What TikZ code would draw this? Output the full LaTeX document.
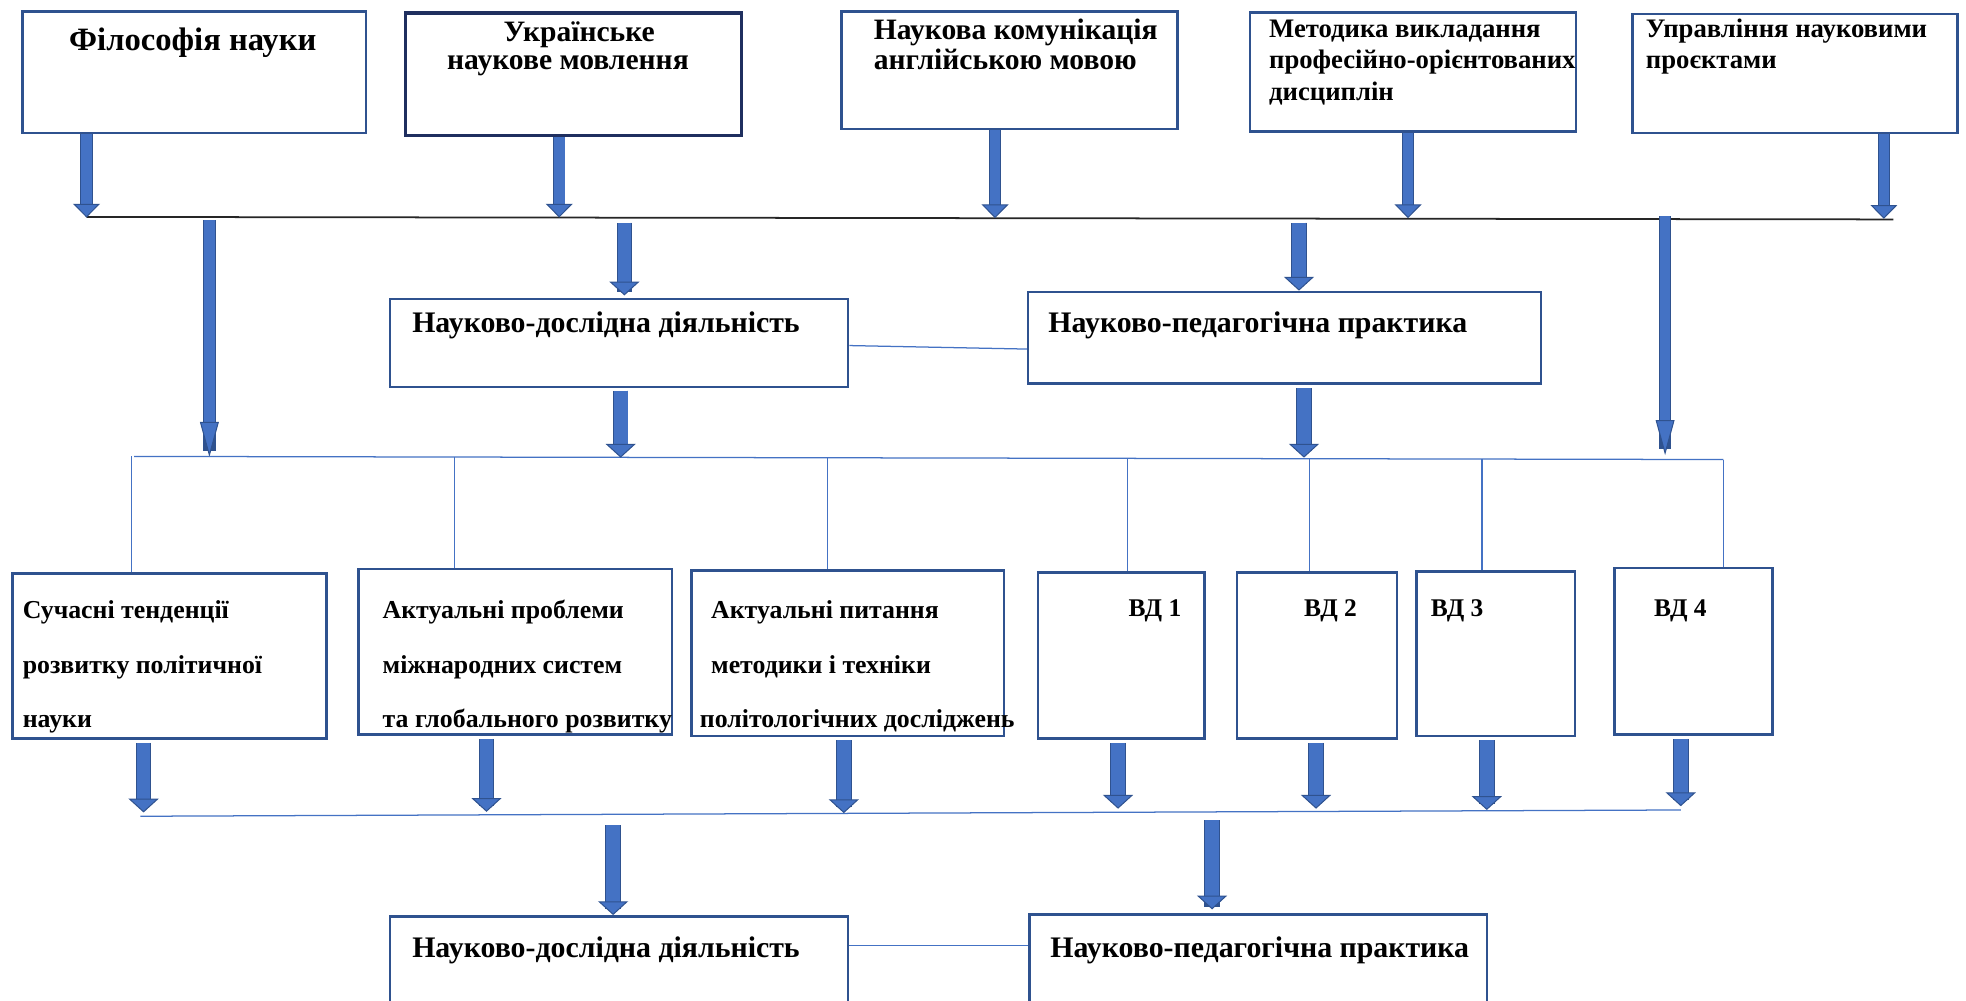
\documentclass[tikz,border=0pt]{standalone}
\usepackage{fontspec}
\setmainfont{Liberation Serif}
\usetikzlibrary{arrows.meta}
\definecolor{boxblue}{HTML}{2F528F}
\definecolor{navyblue}{HTML}{1F2F5F}
\definecolor{arrfill}{HTML}{4472C4}
\definecolor{arrline}{HTML}{2F528F}
\definecolor{thinblue}{HTML}{4472C4}
\begin{document}
\begin{tikzpicture}[x=1pt,y=-1pt,
  box/.style={draw=boxblue, line width=2pt, rectangle, inner sep=0pt, anchor=north west, fill=white},
  txt/.style={inner sep=0pt, anchor=base west, font=\fontsize{21.3}{25}\selectfont\bfseries},
  bigtxt/.style={txt, font=\fontsize{26}{30}\selectfont\bfseries},
  toptxt/.style={txt, font=\fontsize{23.6}{27}\selectfont\bfseries},
  midtxt/.style={txt, font=\fontsize{23.8}{28}\selectfont\bfseries},
  rowtxt/.style={txt, font=\fontsize{20.6}{24}\selectfont\bfseries},
  vdtxt/.style={txt, font=\fontsize{20.3}{24}\selectfont\bfseries},
  blk/.style n args={4}{line width=#1pt, draw=arrfill,
     -{Triangle[width=#3pt,length=#4pt,fill=arrfill,color=arrline,line width=0.8pt]},
     preaction={draw=arrline, line width=#2pt, -, shorten >=5pt}},
  arrA/.style={blk={8.6}{10}{21.5}{11}},
  arrB/.style={blk={11}{12.4}{24}{11}},
  arrL/.style={blk={8.6}{10}{15}{28}},
  topline/.style={draw=black!85, line width=1.4pt},
  thinline/.style={draw=thinblue, line width=1pt}
]
\useasboundingbox (0,0) rectangle (1568,798);
\fill[white] (0,0) rectangle (1568,798);

% ---------- top row boxes
\node[box, minimum width=274pt, minimum height=97pt] (t1) at (17,8) {};
\node[box, draw=navyblue, line width=2.6pt, minimum width=268pt, minimum height=98pt] (t2) at (322,9) {};
\node[box, minimum width=268pt, minimum height=94pt] (t3) at (670,8) {};
\node[box, minimum width=260pt, minimum height=95pt] (t4) at (996,9) {};
\node[box, minimum width=259pt, minimum height=95pt] (t5) at (1301,10) {};

\node[bigtxt] (t1a) at (55,40) {Філософія науки};
\node[toptxt, anchor=base] (t2a) at (462,33.2) {Українське};
\node[toptxt, anchor=base] (t2b) at (453,55.8) {наукове мовлення};
\node[toptxt] (t3a) at (696.7,31.9) {Наукова комунікація};
\node[toptxt] (t3b) at (696.7,55.8) {англійською мовою};
\node[txt] (t4a) at (1012,30) {Методика викладання};
\node[txt] (t4b) at (1012,54.7) {професійно-орієнтованих};
\node[txt] (t4c) at (1012,80) {дисциплін};
\node[txt] (t5a) at (1312.5,30) {Управління науковими};
\node[txt] (t5b) at (1312.5,54.7) {проєктами};

% ---------- line 1
\coordinate (L1w) at (69,173);
\coordinate (L1e) at (1510,175);
\draw[topline] (L1w) -- (L1e);
\coordinate (a1) at (69,173.5);
\coordinate (a2) at (446,173.5);
\coordinate (a3) at (793.6,174);
\coordinate (a4) at (1123,174);
\coordinate (a5) at (1502.5,174.5);
\draw[arrA] (t1.south -| a1) -- (a1);
\draw[arrA] (t2.south -| a2) -- (a2);
\draw[arrA] (t3.south -| a3) -- (a3);
\draw[arrA] (t4.south -| a4) -- (a4);
\draw[arrA] (t5.south -| a5) -- (a5);

% ---------- middle boxes
\node[box, minimum width=365.5pt, minimum height=70pt] (m1) at (310,237.6) {};
\node[box, minimum width=409pt, minimum height=73pt] (m2) at (819,231.8) {};
\node[midtxt] (m1a) at (328.6,265.5) {Науково-дослідна діяльність};
\node[midtxt] (m2a) at (836,265.5) {Науково-педагогічна практика};
\draw[thinline] ([yshift=-38pt]m1.north east) -- ([yshift=-46.6pt]m2.north west);

\coordinate (s1) at (167,175.5);
\coordinate (e1) at (167,364.5);
\coordinate (s2) at (498,177.6);
\coordinate (s3) at (1036,177.6);
\coordinate (s4) at (1328,172.5);
\coordinate (e4) at (1328,363);
\draw[arrL] (s1) -- (e1);
\draw[arrB, shorten >=2pt] (s2) -- (m1.north -| s2);
\draw[arrB] (s3) -- (m2.north -| s3);
\draw[arrL] (s4) -- (e4);

% ---------- line 2
\coordinate (L2w) at (107,364);
\coordinate (L2e) at (1374.5,366.5);
\draw[thinline] (L2w) -- (L2e);
\coordinate (g1) at (495,365);
\coordinate (g2) at (1040,365);
\draw[arrB, shorten <=2pt] (m1.south -| g1) -- (g1);
\draw[arrB, shorten <=3pt] (m2.south -| g2) -- (g2);

% ---------- row boxes
\node[box, minimum width=250.5pt, minimum height=131.5pt] (r1) at (9,456.5) {};
\node[box, minimum width=250pt, minimum height=132pt] (r2) at (285,452.7) {};
\node[box, minimum width=249.3pt, minimum height=132.2pt] (r3) at (550.4,453.8) {};
\node[box, minimum width=132.5pt, minimum height=132.5pt] (r4) at (827,455.5) {};
\node[box, minimum width=127.5pt, minimum height=132.5pt] (r5) at (985.5,455.5) {};
\node[box, minimum width=126.4pt, minimum height=131.3pt] (r6) at (1128.6,454.7) {};
\node[box, minimum width=126pt, minimum height=132.7pt] (r7) at (1286.6,452) {};

\coordinate (v1) at (104.7,364);
\coordinate (v2) at (362.6,364.5);
\coordinate (v3) at (660,365);
\coordinate (v4) at (899.4,365.5);
\coordinate (v5) at (1044.4,365.5);
\coordinate (v6) at (1182,366);
\coordinate (v7) at (1374.5,366.5);
\foreach \v/\r in {v1/r1,v2/r2,v3/r3,v4/r4,v5/r5,v6/r6,v7/r7}
  \draw[thinline] (\v) -- (\v |- \r.north);

\node[rowtxt] (r1a) at (18,493) {Сучасні тенденції};
\node[rowtxt] (r1b) at (18,537) {розвитку політичної};
\node[rowtxt] (r1c) at (18,580) {науки};
\node[rowtxt] (r2a) at (305,493) {Актуальні проблеми};
\node[rowtxt] (r2b) at (305,537) {міжнародних систем};
\node[rowtxt] (r2c) at (305,580) {та глобального розвитку};
\node[rowtxt] (r3a) at (567,493) {Актуальні питання};
\node[rowtxt] (r3b) at (567,537) {методики і техніки};
\node[rowtxt] (r3c) at (558,580) {політологічних досліджень};
\node[vdtxt] (r4a) at (900,492) {ВД 1};
\node[vdtxt] (r5a) at (1040,492) {ВД 2};
\node[vdtxt] (r6a) at (1141,492) {ВД 3};
\node[vdtxt] (r7a) at (1319,492) {ВД 4};

% ---------- line 3
\coordinate (L3w) at (112,651);
\coordinate (L3e) at (1340.5,646);
\draw[thinline] (L3w) -- (L3e);
\coordinate (h1) at (114.5,648);
\coordinate (h2) at (388,647.5);
\coordinate (h3) at (673,648.5);
\coordinate (h4) at (891.7,645);
\coordinate (h5) at (1049.6,645);
\coordinate (h6) at (1185.8,646);
\coordinate (h7) at (1340.5,643);
\foreach \h/\r in {h1/r1,h2/r2,h3/r3,h4/r4,h5/r5,h6/r6,h7/r7}
  \draw[arrB, shorten <=2.5pt] (\r.south -| \h) -- (\h);

% ---------- bottom boxes
\node[box, minimum width=365.5pt, minimum height=100pt] (b1) at (310,729.8) {};
\node[box, minimum width=365pt, minimum height=100pt] (b2) at (820,728.3) {};
\node[midtxt] (b1a) at (328.6,764) {Науково-дослідна діяльність};
\node[midtxt] (b2a) at (837.5,764) {Науково-педагогічна практика};
\draw[thinline] ([yshift=-24.4pt]b1.north east) -- ([yshift=-25.9pt]b2.north west);

\coordinate (k1) at (489,658);
\coordinate (k2) at (966.7,654);
\draw[arrB] (k1) -- (b1.north -| k1);
\draw[arrB, shorten >=3pt] (k2) -- (b2.north -| k2);
\end{tikzpicture}
\end{document}
